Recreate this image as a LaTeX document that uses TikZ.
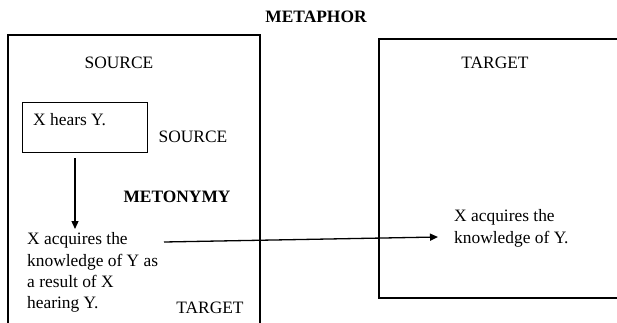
\documentclass[tikz,border=0pt]{standalone}
\usepackage{fontspec}
\setmainfont{Liberation Serif}
\usetikzlibrary{arrows.meta}
\begin{document}
\begin{tikzpicture}[x=1pt,y=-1pt,
  font=\fontsize{17.4}{21.4}\selectfont,
  frame/.style={line width=1.2pt},
  lbl/.style={inner sep=0pt},
  txt/.style={inner sep=0pt, align=left, anchor=north west},
  arr/.style={line width=1.3pt, -{Triangle[length=8pt,width=7pt]}}]
\useasboundingbox (0,0) rectangle (617,323);
% open frames
\draw[frame] (8,323) -- (8,35) -- (260,35) -- (260,323);
\draw[frame] (617,39) -- (379,39) -- (379,298) -- (617,298);
% titles
\node[lbl, font=\fontsize{17.4}{21}\selectfont\bfseries] (metaphor) at (316,17) {METAPHOR};
\node[lbl] (src1) at (119,63) {SOURCE};
\node[lbl] (tgt1) at (495,63) {TARGET};
% inner box
\node[draw, frame, minimum width=125pt, minimum height=50pt, anchor=north west, inner sep=0pt] (hearsbox) at (22,102) {};
\node[lbl, anchor=west] (hears) at (33,120) {X hears Y.};
\node[lbl] (src2) at (193,137) {SOURCE};
\node[lbl, font=\fontsize{17.4}{21}\selectfont\bfseries] (metonymy) at (177,197) {METONYMY};
\node[lbl] (tgt2) at (210,308) {TARGET};
% texts
\node[txt] (acq) at (27,232.5) {X acquires the\\knowledge of Y as\\a result of X\\hearing Y.};
\node[txt] (know) at (454,209.5) {X acquires the\\knowledge of Y.};
% arrows
\coordinate (v1) at (75,158);
\coordinate (v2) at (75,229);
\draw[arr] (v1) -- (v2);
\coordinate (h1) at (164,242);
\coordinate (h2) at (438,237);
\draw[arr] (h1) -- (h2);
\end{tikzpicture}
\end{document}
